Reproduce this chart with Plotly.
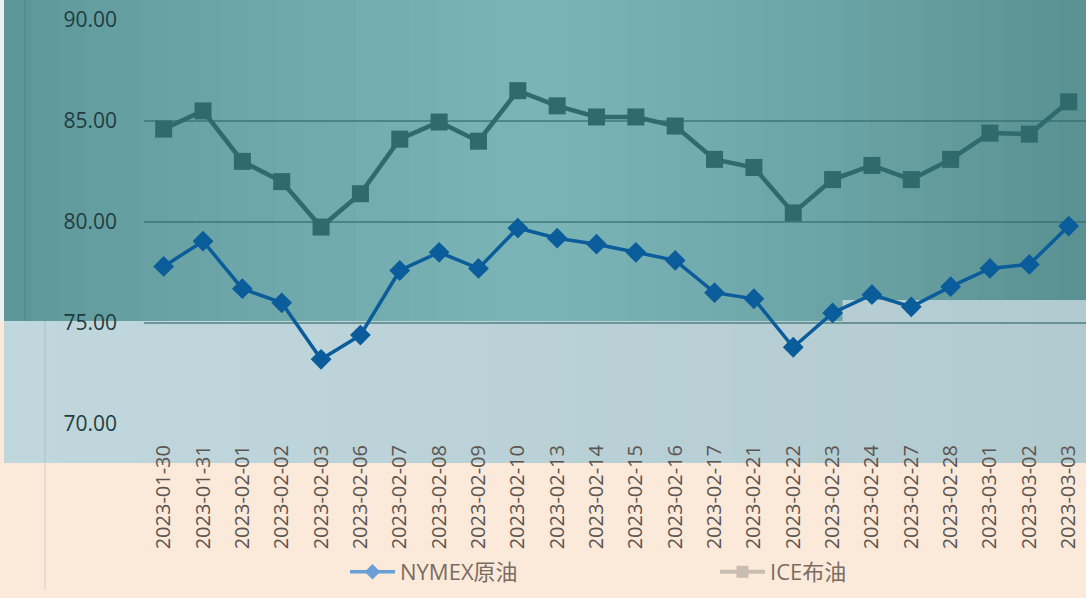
import plotly.graph_objects as go

dates = ["2023-01-30", "2023-01-31", "2023-02-01", "2023-02-02", "2023-02-03", "2023-02-06",
         "2023-02-07", "2023-02-08", "2023-02-09", "2023-02-10", "2023-02-13", "2023-02-14",
         "2023-02-15", "2023-02-16", "2023-02-17", "2023-02-21", "2023-02-22", "2023-02-23",
         "2023-02-24", "2023-02-27", "2023-02-28", "2023-03-01", "2023-03-02", "2023-03-03"]
nymex = [77.8, 79.05, 76.7, 76.0, 73.2, 74.4, 77.6, 78.5, 77.7, 79.7, 79.2, 78.9,
         78.5, 78.1, 76.5, 76.2, 73.8, 75.5, 76.4, 75.8, 76.8, 77.7, 77.9, 79.8]
ice = [84.6, 85.5, 83.0, 82.0, 79.75, 81.4, 84.1, 84.95, 84.0, 86.5, 85.75, 85.2,
       85.2, 84.75, 83.1, 82.7, 80.45, 82.1, 82.8, 82.1, 83.1, 84.4, 84.35, 85.95]
series_names = ["NYMEX原油", "ICE布油"]
y_ticks = [70, 75, 80, 85, 90]

W, H = 1086, 598
L, T, B = 144, 20, 174
PW, PH = W - L, H - T - B


def px_x(p):
    return (p - L) / PW


def px_y(p):
    return (H - B - p) / PH


def lerp(c1, c2, t):
    return "rgb(%d,%d,%d)" % tuple(round(a + (b - a) * t) for a, b in zip(c1, c2))


shapes = []
left_c, mid_c, right_c = (94, 151, 153), (122, 180, 182), (90, 145, 147)
n = 40
x0p, x1p = 4, 1086
for i in range(n):
    a = x0p + (x1p - x0p) * i / n
    b = x0p + (x1p - x0p) * (i + 1) / n
    t = i / (n - 1)
    if t < 0.48:
        col = lerp(left_c, mid_c, (t / 0.48) ** 0.8)
    else:
        col = lerp(mid_c, right_c, ((t - 0.48) / 0.52) ** 1.3)
    bottom = 300 if a >= 823 else 321
    shapes.append(dict(type="rect", xref="paper", yref="paper", layer="below",
                       x0=px_x(a), x1=px_x(b) + 0.001, y0=px_y(bottom), y1=px_y(0),
                       fillcolor=col, line_width=0))
for i in range(n):
    a = x0p + (x1p - x0p) * i / n
    b = x0p + (x1p - x0p) * (i + 1) / n
    col = lerp((192, 215, 221), (178, 203, 209), i / (n - 1))
    top = 300 if a >= 823 else 321
    shapes.append(dict(type="rect", xref="paper", yref="paper", layer="below",
                       x0=px_x(a), x1=px_x(b) + 0.001, y0=px_y(463), y1=px_y(top),
                       fillcolor=col, line_width=0))
shapes.append(dict(type="rect", xref="paper", yref="paper", layer="below",
                   x0=px_x(0), x1=px_x(4), y0=px_y(321), y1=px_y(0),
                   fillcolor="#eef1f1", line_width=0))
shapes.append(dict(type="line", xref="paper", yref="paper", layer="below",
                   x0=px_x(25), x1=px_x(25), y0=px_y(321), y1=px_y(0),
                   line=dict(color="rgba(60,120,122,0.6)", width=1)))
shapes.append(dict(type="line", xref="paper", yref="paper", layer="below",
                   x0=px_x(45), x1=px_x(45), y0=px_y(590), y1=px_y(321),
                   line=dict(color="rgba(140,150,150,0.35)", width=1)))

fig = go.Figure()
fig.add_trace(go.Scatter(x=dates, y=ice, mode="lines+markers", name=series_names[1],
                         line=dict(color="#2f6a6c", width=4.5),
                         marker=dict(symbol="square", size=17, color="#2f6a6c"),
                         showlegend=False))
fig.add_trace(go.Scatter(x=dates, y=nymex, mode="lines+markers", name=series_names[0],
                         line=dict(color="#0b5c9a", width=3.5),
                         marker=dict(symbol="diamond", size=16, color="#0b5c9a"),
                         showlegend=False))
fig.add_trace(go.Scatter(x=[None], y=[None], mode="lines+markers", name=series_names[0],
                         line=dict(color="#6a9fd6", width=3.5),
                         marker=dict(symbol="diamond", size=12, color="#6a9fd6")))
fig.add_trace(go.Scatter(x=[None], y=[None], mode="lines+markers", name=series_names[1],
                         line=dict(color="#c9bdb2", width=4),
                         marker=dict(symbol="square", size=12, color="#c9bdb2")))

fig.update_layout(
    width=W, height=H,
    margin=dict(l=L, r=0, t=T, b=B, pad=0),
    paper_bgcolor="#fbe9da",
    plot_bgcolor="rgba(0,0,0,0)",
    shapes=shapes,
    font=dict(family="Open Sans, Noto Sans CJK SC", color="#3a4a4c"),
    legend=dict(orientation="h", x=px_x(345), xanchor="left", y=px_y(572), yanchor="middle",
                entrywidth=310, entrywidthmode="pixels",
                font=dict(size=22, color="#7a6c62", family="Open Sans, Noto Sans CJK SC"),
                bgcolor="rgba(0,0,0,0)", itemwidth=45),
    xaxis=dict(type="category", range=[-0.5, 23.44], showgrid=False, zeroline=False,
               showline=False, ticks="", tickangle=-90, ticklabelstandoff=16,
               tickfont=dict(size=20, color="#5d5550", family="Open Sans")),
    yaxis=dict(range=[70, 90], tickvals=y_ticks, tickformat=".2f", showgrid=True,
               gridcolor="rgba(45,100,102,0.55)", gridwidth=1.5, zeroline=False,
               showline=False, ticks="", ticklabelstandoff=26,
               tickfont=dict(size=21, color="#1e3d3f", family="Open Sans")),
)

fig.write_html("out.html", config={"displayModeBar": False},
               post_script="document.body.style.margin='0';")
